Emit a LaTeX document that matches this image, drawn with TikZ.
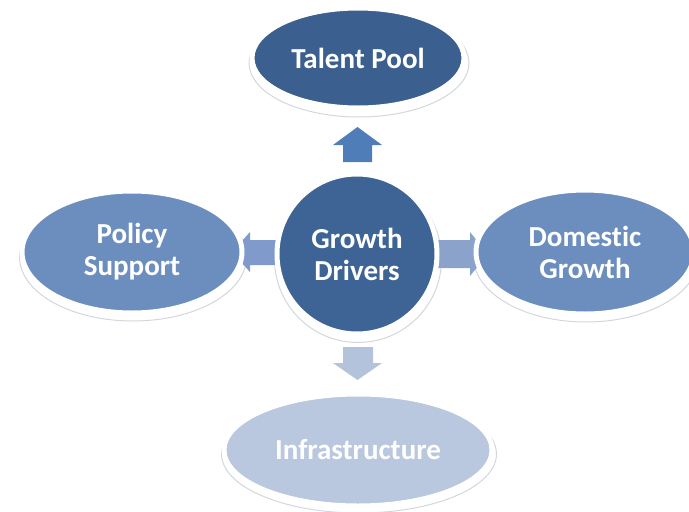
\documentclass[tikz,border=0pt]{standalone}
\usepackage{fontspec}
\setmainfont{Carlito}[Ligatures={NoCommon,NoRare}]
\usetikzlibrary{shapes.geometric}
\definecolor{darkb}{HTML}{3B5F8E}
\definecolor{darkc}{HTML}{3D6495}
\definecolor{midb}{HTML}{6C8EBF}
\definecolor{lightb}{HTML}{B9C7DF}
\definecolor{arrup}{HTML}{4F7DB8}
\definecolor{arrleft}{HTML}{7F9ACB}
\definecolor{arrright}{HTML}{8BA3CB}
\definecolor{arrdown}{HTML}{B4C3DC}
\definecolor{shadowc}{HTML}{D3D7DD}
\tikzset{
  bubble/.style={ellipse, draw=white, line width=5pt, text=white,
    font=\fontsize{29}{32}\selectfont\bfseries, align=center, inner sep=0pt},
  rimshadow/.style={ellipse, draw=shadowc, line width=1pt, fill=white, inner sep=0pt}
}
\begin{document}
\begin{tikzpicture}[x=1pt,y=-1pt]
\useasboundingbox (0,0) rectangle (689,512);
% shadows
\node[rimshadow, minimum width=220pt, minimum height=108pt] at (359,63) {};
\node[rimshadow, circle, minimum size=167pt] at (358,259) {};
\node[rimshadow, minimum width=227pt, minimum height=128pt] at (133,257) {};
\node[rimshadow, minimum width=225pt, minimum height=130pt] at (586,257) {};
\node[rimshadow, minimum width=275pt, minimum height=118pt] at (359,454) {};
% block arrows
\fill[arrup] (343,162) -- (343,145) -- (333,145) -- (357.5,127) -- (382,145) -- (372,145) -- (372,162) -- cycle;
\fill[arrdown] (343,347) -- (343,363) -- (333,363) -- (357.5,380) -- (382,363) -- (373,363) -- (373,347) -- cycle;
\fill[arrleft] (282,240) -- (250,240) -- (250,232) -- (232,252) -- (250,272) -- (250,265) -- (282,265) -- cycle;
\fill[arrright] (434,240) -- (470,240) -- (470,232) -- (488,254) -- (470,276) -- (470,268) -- (434,268) -- cycle;
% nodes
\node[bubble, fill=darkb, minimum width=212pt, minimum height=100pt] (talent) at (358,58) {Talent Pool};
\node[bubble, circle, fill=darkc, minimum size=160pt] (growth) at (357,254) {Growth\\Drivers};
\node[bubble, fill=midb, minimum width=220pt, minimum height=122pt] (policy) at (132,252) {Policy\\Support};
\node[bubble, fill=midb, minimum width=218pt, minimum height=124pt] (domestic) at (585,252) {Domestic\\Growth};
\node[bubble, fill=lightb, minimum width=268pt, minimum height=112pt] (infra) at (358,450) {Infrastructure};
\end{tikzpicture}
\end{document}
